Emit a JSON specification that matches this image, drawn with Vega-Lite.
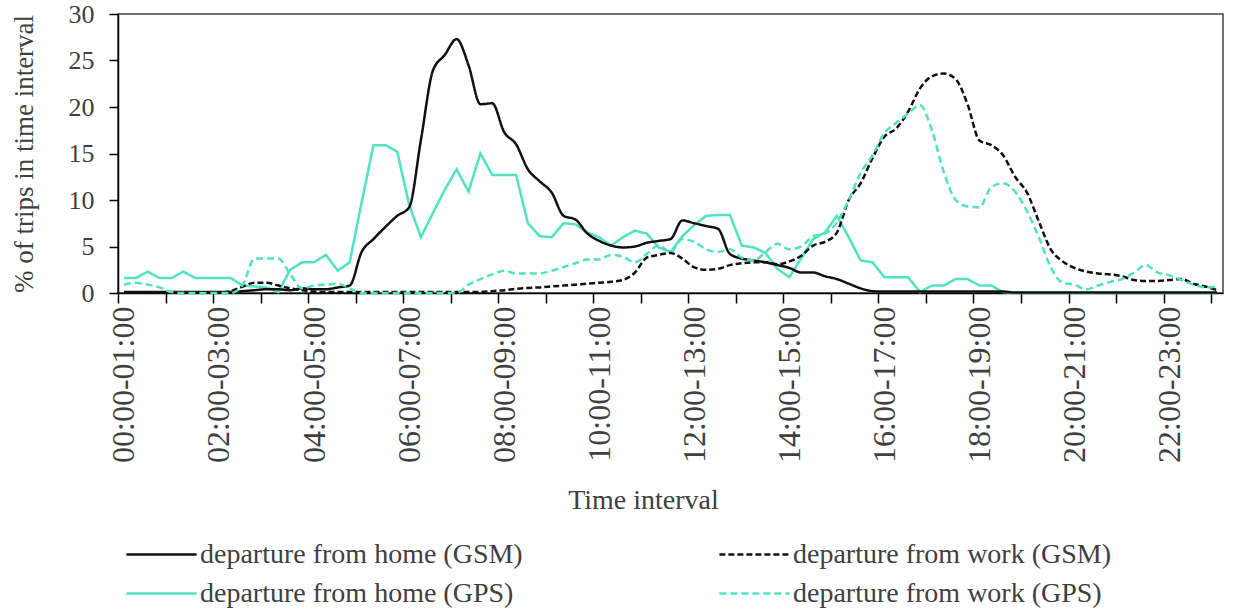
{
"$schema": "https://vega.github.io/schema/vega-lite/v6.json",
"width": 1105, "height": 279,
"autosize": {"type": "none"},
"padding": {"left": 118, "top": 14, "right": 11, "bottom": 323},
"background": "white",
"config": {
  "font": "Liberation Serif",
  "view": {"stroke": "#404040", "strokeWidth": 1.5},
  "axis": {"grid": false, "domainColor": "#000000", "domainWidth": 1.5, "tickColor": "#000000", "tickWidth": 1.5, "labelColor": "#404040", "titleColor": "#404040", "titleFontWeight": "normal", "labelFont": "Liberation Serif", "titleFont": "Liberation Serif"},
  "legend": {"orient": "none", "legendX": 22.5, "legendY": 519.5, "columns": 2, "symbolType": "M-1.8,0L1.8,0", "symbolSize": 1521, "symbolStrokeWidth": 2.5, "labelFont": "Liberation Serif", "labelFontSize": 28, "labelColor": "#404040", "labelOffset": 17.5, "columnPadding": 190, "rowPadding": 4, "padding": 0, "symbolOffset": 0, "labelLimit": 0}
},
"data": {"values": [
{"h":0,"hGSM":0.1,"hGPS":1.6,"wGSM":0.05,"wGPS":0.9},
{"h":0.25,"hGSM":0.1,"hGPS":1.6,"wGSM":0.05,"wGPS":1.1},
{"h":0.5,"hGSM":0.1,"hGPS":2.3,"wGSM":0.05,"wGPS":0.9},
{"h":0.75,"hGSM":0.1,"hGPS":1.6,"wGSM":0.05,"wGPS":0.6},
{"h":1,"hGSM":0.1,"hGPS":1.6,"wGSM":0.05,"wGPS":0.1},
{"h":1.25,"hGSM":0.1,"hGPS":2.3,"wGSM":0.05,"wGPS":0},
{"h":1.5,"hGSM":0.1,"hGPS":1.6,"wGSM":0.05,"wGPS":0},
{"h":1.75,"hGSM":0.1,"hGPS":1.6,"wGSM":0.05,"wGPS":0},
{"h":2,"hGSM":0.1,"hGPS":1.6,"wGSM":0.05,"wGPS":0},
{"h":2.25,"hGSM":0.1,"hGPS":1.6,"wGSM":0.2,"wGPS":0},
{"h":2.5,"hGSM":0.2,"hGPS":0.8,"wGSM":0.7,"wGPS":0.9},
{"h":2.75,"hGSM":0.3,"hGPS":0.7,"wGSM":1.1,"wGPS":3.7},
{"h":3,"hGSM":0.4,"hGPS":0.6,"wGSM":1.1,"wGPS":3.7},
{"h":3.25,"hGSM":0.4,"hGPS":0.1,"wGSM":0.8,"wGPS":3.7},
{"h":3.5,"hGSM":0.3,"hGPS":2.5,"wGSM":0.5,"wGPS":2.0},
{"h":3.75,"hGSM":0.5,"hGPS":3.3,"wGSM":0.3,"wGPS":0.5},
{"h":4,"hGSM":0.4,"hGPS":3.3,"wGSM":0.15,"wGPS":0.8},
{"h":4.25,"hGSM":0.4,"hGPS":4.1,"wGSM":0.1,"wGPS":0.9},
{"h":4.5,"hGSM":0.6,"hGPS":2.4,"wGSM":0.1,"wGPS":1.0},
{"h":4.75,"hGSM":0.8,"hGPS":3.3,"wGSM":0.1,"wGPS":0.5},
{"h":5,"hGSM":4.4,"hGPS":9.7,"wGSM":0.1,"wGPS":0},
{"h":5.25,"hGSM":5.8,"hGPS":15.9,"wGSM":0.1,"wGPS":0},
{"h":5.5,"hGSM":7.1,"hGPS":15.9,"wGSM":0.1,"wGPS":0},
{"h":5.75,"hGSM":8.3,"hGPS":15.2,"wGSM":0.1,"wGPS":0},
{"h":6,"hGSM":9.2,"hGPS":9.5,"wGSM":0.1,"wGPS":0},
{"h":6.25,"hGSM":16.5,"hGPS":6.0,"wGSM":0.1,"wGPS":0},
{"h":6.5,"hGSM":23.9,"hGPS":8.6,"wGSM":0.1,"wGPS":0},
{"h":6.75,"hGSM":25.6,"hGPS":11.1,"wGSM":0.1,"wGPS":0},
{"h":7,"hGSM":27.3,"hGPS":13.3,"wGSM":0.1,"wGPS":0},
{"h":7.25,"hGSM":24.5,"hGPS":10.9,"wGSM":0.1,"wGPS":0.9},
{"h":7.5,"hGSM":20.3,"hGPS":15.0,"wGSM":0.1,"wGPS":1.5},
{"h":7.75,"hGSM":20.4,"hGPS":12.7,"wGSM":0.2,"wGPS":2.0},
{"h":8,"hGSM":17.3,"hGPS":12.7,"wGSM":0.3,"wGPS":2.4},
{"h":8.25,"hGSM":16.0,"hGPS":12.7,"wGSM":0.45,"wGPS":2.1},
{"h":8.5,"hGSM":13.3,"hGPS":7.5,"wGSM":0.55,"wGPS":2.1},
{"h":8.75,"hGSM":12.0,"hGPS":6.1,"wGSM":0.6,"wGPS":2.1},
{"h":9,"hGSM":10.8,"hGPS":6.0,"wGSM":0.7,"wGPS":2.4},
{"h":9.25,"hGSM":8.3,"hGPS":7.5,"wGSM":0.8,"wGPS":2.8},
{"h":9.5,"hGSM":7.9,"hGPS":7.4,"wGSM":0.9,"wGPS":3.2},
{"h":9.75,"hGSM":6.4,"hGPS":6.5,"wGSM":1.0,"wGPS":3.6},
{"h":10,"hGSM":5.6,"hGPS":6.0,"wGSM":1.1,"wGPS":3.6},
{"h":10.25,"hGSM":5.1,"hGPS":5.1,"wGSM":1.2,"wGPS":4.1},
{"h":10.5,"hGSM":4.9,"hGPS":6.0,"wGSM":1.4,"wGPS":3.9},
{"h":10.75,"hGSM":5.0,"hGPS":6.7,"wGSM":2.2,"wGPS":3.3},
{"h":11,"hGSM":5.4,"hGPS":6.4,"wGSM":3.8,"wGPS":4.2},
{"h":11.25,"hGSM":5.6,"hGPS":4.9,"wGSM":4.1,"wGPS":5.1},
{"h":11.5,"hGSM":5.8,"hGPS":4.4,"wGSM":4.3,"wGPS":4.4},
{"h":11.75,"hGSM":7.8,"hGPS":6.1,"wGSM":3.7,"wGPS":5.8},
{"h":12,"hGSM":7.5,"hGPS":7.3,"wGSM":2.75,"wGPS":5.5},
{"h":12.25,"hGSM":7.2,"hGPS":8.3,"wGSM":2.5,"wGPS":4.7},
{"h":12.5,"hGSM":6.9,"hGPS":8.4,"wGSM":2.6,"wGPS":4.4},
{"h":12.75,"hGSM":4.2,"hGPS":8.4,"wGSM":3.0,"wGPS":4.7},
{"h":13,"hGSM":3.7,"hGPS":5.1,"wGSM":3.2,"wGPS":3.8},
{"h":13.25,"hGSM":3.5,"hGPS":4.9,"wGSM":3.3,"wGPS":3.5},
{"h":13.5,"hGSM":3.3,"hGPS":4.3,"wGSM":3.3,"wGPS":4.4},
{"h":13.75,"hGSM":3.0,"hGPS":2.6,"wGSM":3.1,"wGPS":5.3},
{"h":14,"hGSM":2.7,"hGPS":1.7,"wGSM":3.4,"wGPS":4.7},
{"h":14.25,"hGSM":2.2,"hGPS":3.7,"wGSM":4.0,"wGPS":5.0},
{"h":14.5,"hGSM":2.2,"hGPS":5.8,"wGSM":5.1,"wGPS":6.1},
{"h":14.75,"hGSM":1.8,"hGPS":6.5,"wGSM":5.5,"wGPS":6.4},
{"h":15,"hGSM":1.5,"hGPS":8.3,"wGSM":6.5,"wGPS":7.6},
{"h":15.25,"hGSM":1.0,"hGPS":6.0,"wGSM":10.0,"wGPS":10.0},
{"h":15.5,"hGSM":0.5,"hGPS":3.5,"wGSM":11.8,"wGPS":12.9},
{"h":15.75,"hGSM":0.2,"hGPS":3.3,"wGSM":14.5,"wGPS":14.8},
{"h":16,"hGSM":0.15,"hGPS":1.7,"wGSM":16.8,"wGPS":17.2},
{"h":16.25,"hGSM":0.15,"hGPS":1.7,"wGSM":17.7,"wGPS":18.3},
{"h":16.5,"hGSM":0.15,"hGPS":1.7,"wGSM":19.5,"wGPS":19.3},
{"h":16.75,"hGSM":0.15,"hGPS":0.1,"wGSM":22.0,"wGPS":20.2},
{"h":17,"hGSM":0.15,"hGPS":0.8,"wGSM":23.3,"wGPS":17.5},
{"h":17.25,"hGSM":0.15,"hGPS":0.8,"wGSM":23.6,"wGPS":13.0},
{"h":17.5,"hGSM":0.15,"hGPS":1.5,"wGSM":23.0,"wGPS":10.0},
{"h":17.75,"hGSM":0.15,"hGPS":1.5,"wGSM":20.3,"wGPS":9.3},
{"h":18,"hGSM":0.15,"hGPS":0.8,"wGSM":16.4,"wGPS":9.2},
{"h":18.25,"hGSM":0.15,"hGPS":0.8,"wGSM":15.9,"wGPS":11.4},
{"h":18.5,"hGSM":0.15,"hGPS":0.1,"wGSM":14.8,"wGPS":11.8},
{"h":18.75,"hGSM":0.05,"hGPS":0,"wGSM":12.5,"wGPS":10.9},
{"h":19,"hGSM":0.05,"hGPS":0,"wGSM":10.8,"wGPS":8.8},
{"h":19.25,"hGSM":0.05,"hGPS":0,"wGSM":7.7,"wGPS":6.0},
{"h":19.5,"hGSM":0.05,"hGPS":0,"wGSM":4.7,"wGPS":2.8},
{"h":19.75,"hGSM":0.05,"hGPS":0,"wGSM":3.4,"wGPS":1.1},
{"h":20,"hGSM":0.05,"hGPS":0,"wGSM":2.7,"wGPS":0.9},
{"h":20.25,"hGSM":0.05,"hGPS":0,"wGSM":2.3,"wGPS":0.4},
{"h":20.5,"hGSM":0.05,"hGPS":0,"wGSM":2.1,"wGPS":0.8},
{"h":20.75,"hGSM":0.05,"hGPS":0,"wGSM":2.0,"wGPS":1.2},
{"h":21,"hGSM":0.05,"hGPS":0,"wGSM":1.8,"wGPS":1.5},
{"h":21.25,"hGSM":0.05,"hGPS":0,"wGSM":1.4,"wGPS":2.2},
{"h":21.5,"hGSM":0.05,"hGPS":0,"wGSM":1.3,"wGPS":3.0},
{"h":21.75,"hGSM":0.05,"hGPS":0,"wGSM":1.3,"wGPS":2.2},
{"h":22,"hGSM":0.05,"hGPS":0,"wGSM":1.4,"wGPS":1.9},
{"h":22.25,"hGSM":0.05,"hGPS":0,"wGSM":1.5,"wGPS":1.4},
{"h":22.5,"hGSM":0.05,"hGPS":0,"wGSM":1.0,"wGPS":0.9},
{"h":22.75,"hGSM":0.05,"hGPS":0,"wGSM":0.7,"wGPS":0.6},
{"h":23,"hGSM":0.05,"hGPS":0,"wGSM":0.3,"wGPS":0.7}
]},
"transform": [{"fold": ["hGSM", "hGPS", "wGSM", "wGPS"], "as": ["series", "v"]}],
"encoding": {
  "x": {"field": "h", "type": "quantitative",
    "scale": {"domain": [-0.125, 23.125], "nice": false, "zero": false},
    "axis": {
      "values": [-0.125, 0, 0.875, 1.875, 2, 2.875, 3.875, 4, 4.875, 5.875, 6, 6.875, 7.875, 8, 8.875, 9.875, 10, 10.875, 11.875, 12, 12.875, 13.875, 14, 14.875, 15.875, 16, 16.875, 17.875, 18, 18.875, 19.875, 20, 20.875, 21.875, 22, 22.875],
      "labelExpr": "datum.value % 1 != 0 ? '' : ((datum.value < 10 ? '0' : '') + datum.value + ':00-' + (datum.value + 1 < 10 ? '0' : '') + (datum.value + 1) + ':00')",
      "labelAngle": 270, "labelAlign": "right", "labelBaseline": "middle",
      "labelFontSize": 32, "labelPadding": 3, "tickSize": 10,
      "tickOpacity": {"condition": {"test": "datum.value % 1 == 0", "value": 0}, "value": 1},
      "labelOverlap": false, "labelFlush": false, "labelBound": false,
      "title": "Time interval", "titleFontSize": 28, "titleX": 525, "titleY": 215,
      "titleBaseline": "alphabetic", "titleAlign": "center"
    }
  },
  "y": {"field": "v", "type": "quantitative",
    "scale": {"domain": [0, 30], "nice": false},
    "axis": {"values": [0, 5, 10, 15, 20, 25, 30], "labelFontSize": 26, "tickSize": 9, "labelPadding": 15,
      "title": "% of trips in time interval", "titleFontSize": 27, "titlePadding": 30}
  },
  "color": {"field": "series", "type": "nominal",
    "scale": {"domain": ["hGSM", "hGPS", "wGSM", "wGPS"], "range": ["#111111", "#4fe3c1", "#111111", "#4fe3c1"]},
    "legend": {"title": null, "labelExpr": "datum.label == 'hGSM' ? 'departure from home (GSM)' : datum.label == 'wGSM' ? 'departure from work (GSM)' : datum.label == 'hGPS' ? 'departure from home (GPS)' : 'departure from work (GPS)'"}
  },
  "strokeDash": {"field": "series", "type": "nominal",
    "scale": {"domain": ["hGSM", "hGPS", "wGSM", "wGPS"], "range": [[1, 0], [1, 0], [6, 3], [7, 4]]},
    "legend": {"title": null, "labelExpr": "datum.label == 'hGSM' ? 'departure from home (GSM)' : datum.label == 'wGSM' ? 'departure from work (GSM)' : datum.label == 'hGPS' ? 'departure from home (GPS)' : 'departure from work (GPS)'"}
  }
},
"layer": [
  {"transform": [{"filter": "datum.series == 'hGPS'"}], "mark": {"type": "line", "strokeWidth": 2.5}},
  {"transform": [{"filter": "datum.series != 'hGPS'"}], "mark": {"type": "line", "interpolate": "monotone", "strokeWidth": 2.5}}
]
}
